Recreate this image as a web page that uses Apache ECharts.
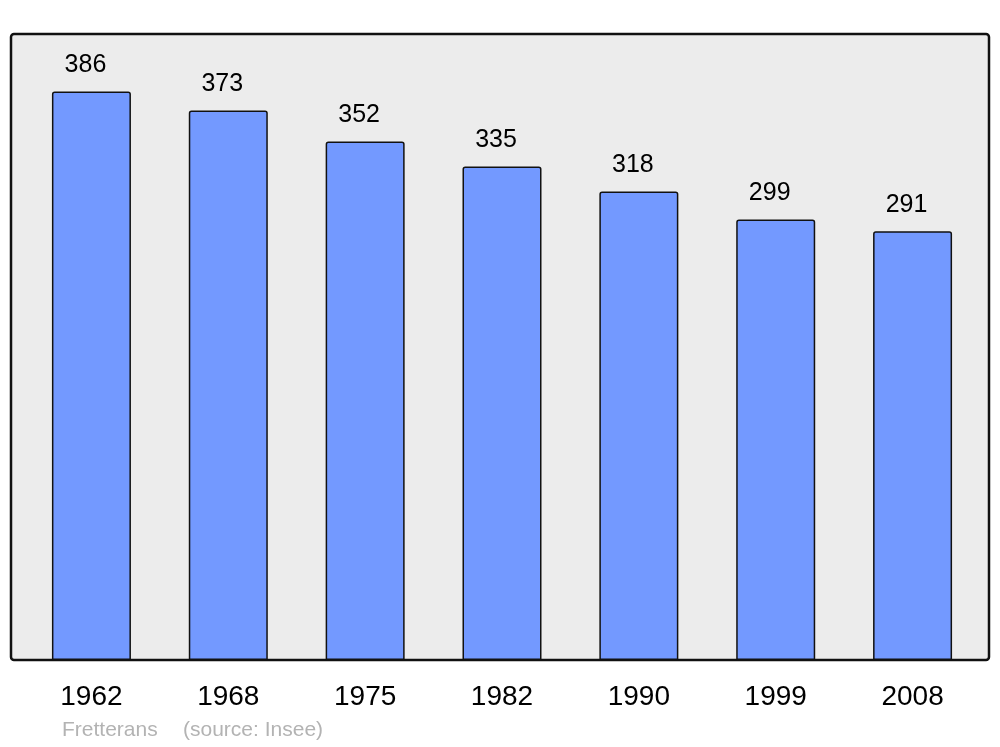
<!DOCTYPE html>
<html>
<head>
<meta charset="utf-8">
<script src="https://cdn.jsdelivr.net/npm/echarts@6/dist/echarts.min.js"></script>
<style>html,body{margin:0;padding:0;background:#fff}#c{width:1000px;height:747px}</style>
</head>
<body>
<div id="c"></div>
<script>
const years = ['1962','1968','1975','1982','1990','1999','2008'];
const population = [386, 373, 352, 335, 318, 299, 291];
const placeName = 'Fretterans';
const sourceText = '(source: Insee)';

const chart = echarts.init(document.getElementById('c'), null, {renderer:'canvas'});
const FONT = '"Liberation Sans", Arial, sans-serif';
chart.setOption({
  animation: false,
  backgroundColor: '#ffffff',
  grid: {left: 23, right: 19, top: 34, bottom: 87},
  xAxis: {
    type: 'category', data: years,
    axisLine: {show: false}, axisTick: {show: false},
    axisLabel: {color: '#000', fontSize: 28, fontFamily: FONT, margin: 23}
  },
  yAxis: {type: 'value', min: 0, max: 425, show: false, splitLine: {show: false}},
  graphic: [
    {type: 'rect', z: -10, silent: true,
     shape: {x: 11, y: 34, width: 978, height: 626, r: 3},
     style: {fill: '#ececec', stroke: '#111', lineWidth: 2.5}},
    {type: 'text', left: 62, top: 720, silent: true,
     style: {text: placeName, fill: '#b3b3b3', font: '21px ' + FONT}},
    {type: 'text', left: 183, top: 720, silent: true,
     style: {text: sourceText, fill: '#b3b3b3', font: '21px ' + FONT}}
  ],
  series: [{
    type: 'bar', data: population, barWidth: 79,
    itemStyle: {color: '#7399ff', borderColor: '#111', borderWidth: 1.5, borderRadius: [2,2,0,0]},
    label: {show: true, position: 'top', distance: 14, offset: [-6, 0], color: '#000', fontSize: 25, fontFamily: FONT}
  }]
});
</script>
</body>
</html>
